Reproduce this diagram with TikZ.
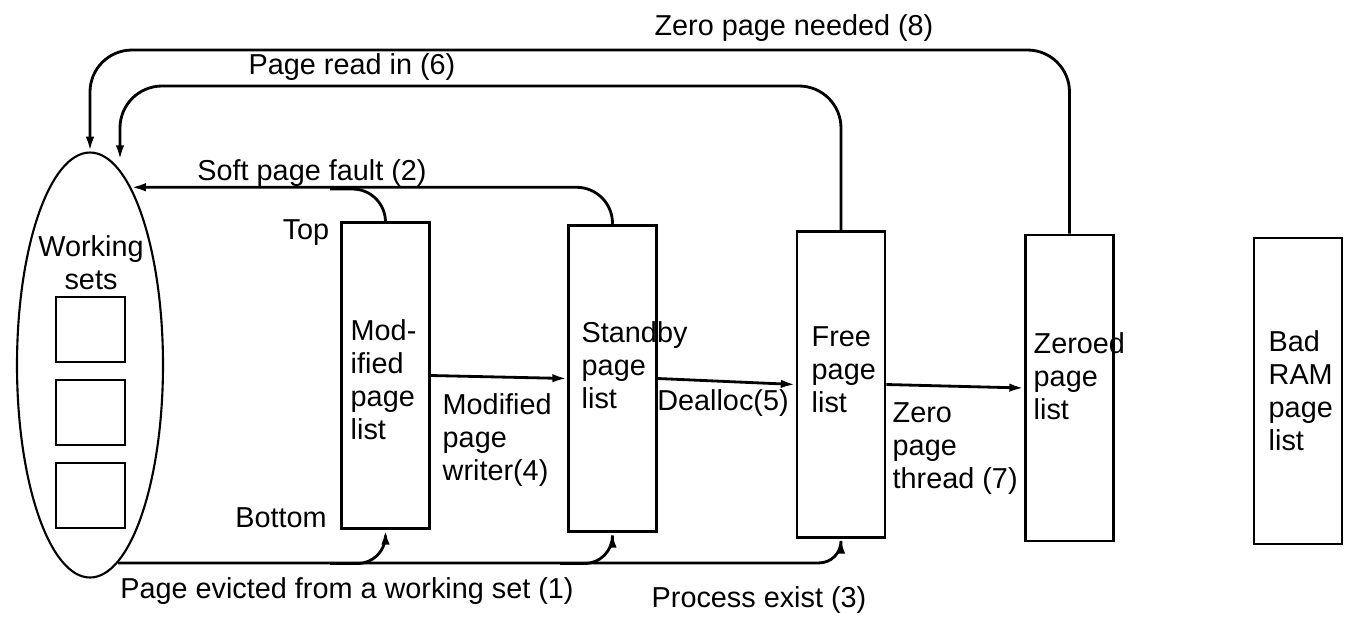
\documentclass[tikz,border=0pt]{standalone}
\usepackage{fontspec}
\setmainfont{Liberation Sans}
\usetikzlibrary{arrows.meta, shapes.geometric}

\begin{document}
\begin{tikzpicture}[x=0.1mm, y=-0.1mm, >={Latex[length=4.2pt, width=2.4pt]},
    listbox/.style={draw, line width=0.8pt, minimum width=8.8mm, minimum height=30.6mm, inner sep=0pt},
    slot/.style={draw, line width=0.8pt, minimum width=6.9mm, minimum height=6.5mm, inner sep=0pt},
    lbl/.style={inner sep=0pt, align=left, font=\fontsize{8.2}{9.4}\selectfont},
    flow/.style={->, line width=0.8pt}]
    \useasboundingbox (0,0) rectangle (1346,616);

    \node[draw, ellipse, line width=0.6pt, minimum width=14.6mm, minimum height=42.5mm, inner sep=0pt] (ws) at (90,365) {};
    \node[lbl, align=center] (wstxt) at (91,263) {Working\\sets};
    \foreach \y [count=\i] in {329.5,412.5,495.5}
        \node[slot] (sq\i) at (90.5,\y) {};

    \node[listbox] (mod)  at (385.5,375.5) {};
    \node[listbox] (stby) at (612.5,378.5) {};
    \node[listbox] (free) at (841,384.5) {};
    \node[listbox] (zero) at (1069.5,388) {};
    \node[listbox] (bad)  at (1298,391) {};

    \node[lbl, anchor=west] (modtxt)  at (350,380) {Mod-\\ified\\page\\list};
    \node[lbl, anchor=west] (stbytxt) at (581,365) {Standby\\page\\list};
    \node[lbl, anchor=west] (freetxt) at (811,370) {Free\\page\\list};
    \node[lbl, anchor=west] (zerotxt) at (1033,376) {Zeroed\\page\\list};
    \node[lbl, anchor=west] (badtxt)  at (1268,391) {Bad\\RAM\\page\\list};
    \node[lbl] (toplbl) at (306,233) {Top};
    \node[lbl] (botlbl) at (281,518) {Bottom};

    \coordinate (needed) at (90,50);
    \coordinate (readin) at (120,86);
    \coordinate (wsin) at (120,160);
    \coordinate (softmod) at (330,189);
    \coordinate (evmod) at (330,563.5);
    \coordinate (evstby) at (560,563.5);

    \draw[flow, rounded corners=4.2mm] (zero.north) |- (needed) -- (ws.north);
    \draw[flow, rounded corners=4.2mm] (free.north) |- (readin) -- (wsin);
    \draw[flow, rounded corners=3.6mm] (stby.north) |- (ws.77);
    \draw[line width=0.8pt, rounded corners=3.3mm] (mod.north) |- (softmod);
    \draw[flow, rounded corners=2.2mm] (ws.-82.5) -| (free.south);
    \draw[flow, rounded corners=2.8mm] (evmod) -| (mod.south);
    \draw[flow, rounded corners=2.8mm] (evstby) -| (stby.south);
    \draw[flow] (mod.east) -- (stby.west);
    \draw[flow] (stby.east) -- (free.west);
    \draw[flow] (free.east) -- (zero.west);

    \node[lbl] (needlbl) at (794,28) {Zero page needed (8)};
    \node[lbl] (readlbl) at (352,67) {Page read in (6)};
    \node[lbl] (softlbl) at (312,173) {Soft page fault (2)};
    \node[lbl, anchor=west] (writerlbl) at (442,440) {Modified\\page\\writer(4)};
    \node[lbl] (dealloclbl) at (723,403) {Dealloc(5)};
    \node[lbl, anchor=west] (threadlbl) at (892,449) {Zero\\page\\thread (7)};
    \node[lbl] (evictlbl) at (347,591) {Page evicted from a working set (1)};
    \node[lbl] (exitlbl) at (759,600) {Process exist (3)};
\end{tikzpicture}
\end{document}
